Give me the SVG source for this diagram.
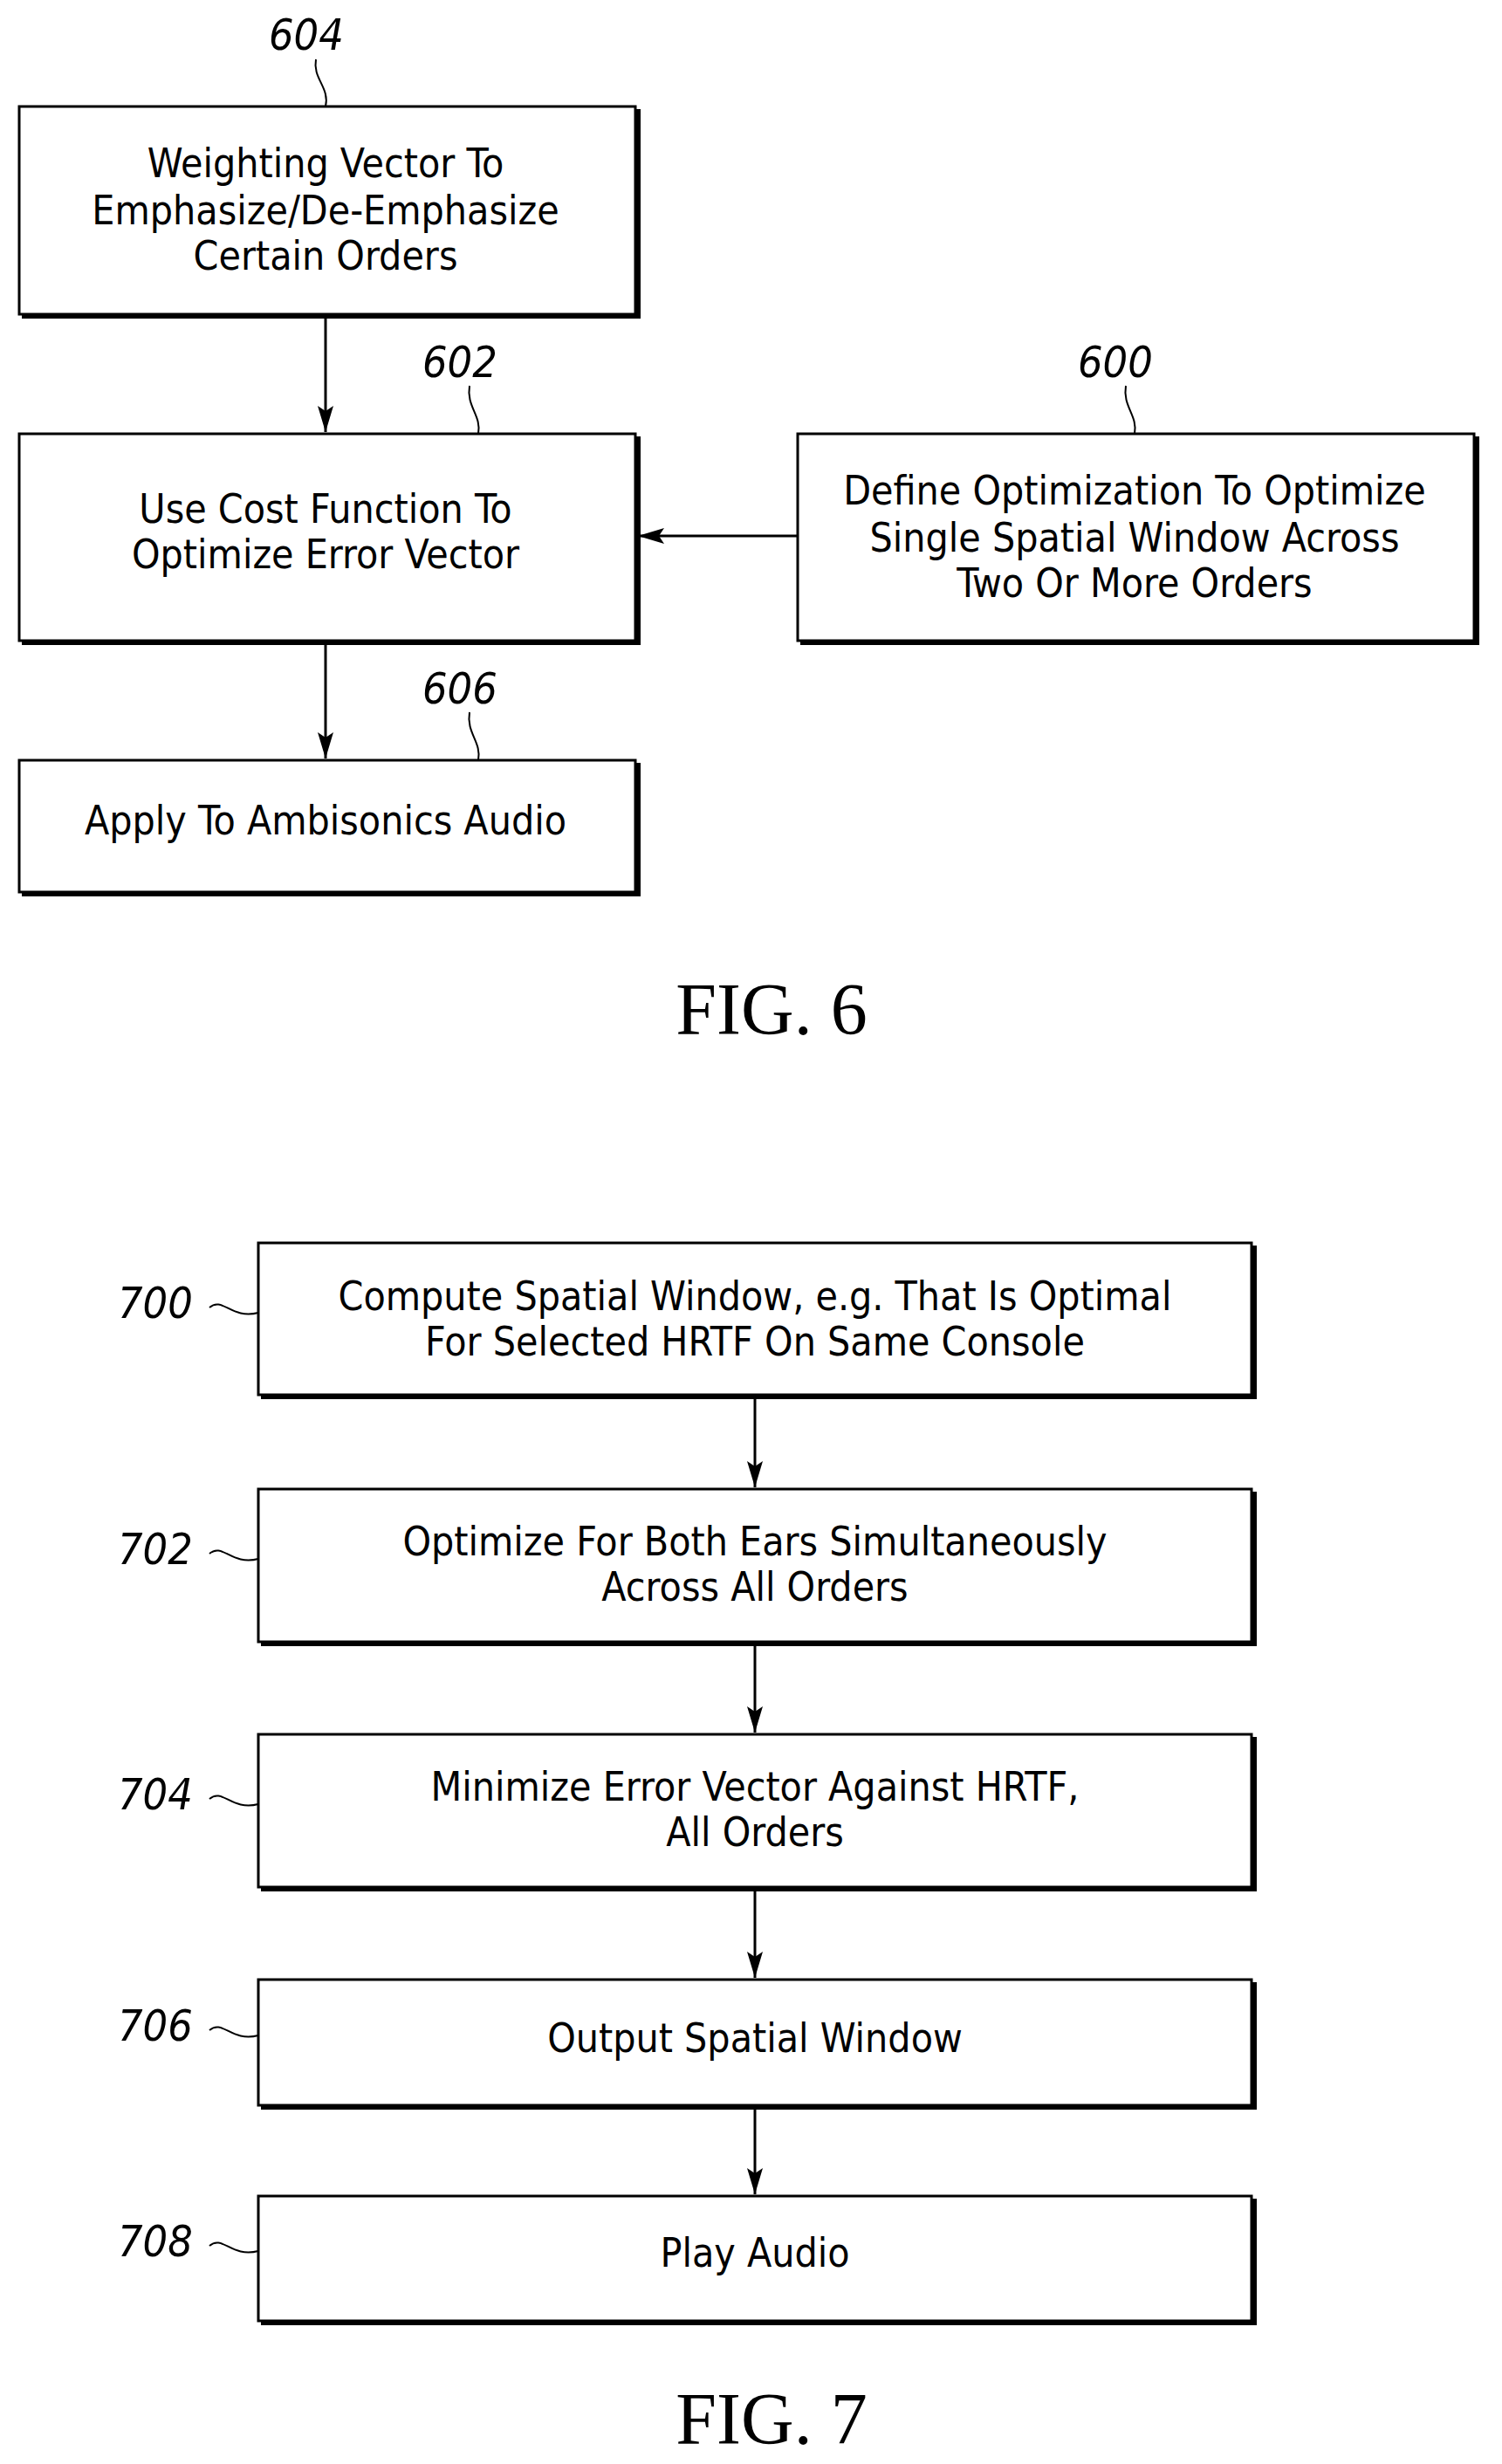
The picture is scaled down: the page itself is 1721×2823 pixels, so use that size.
<svg xmlns="http://www.w3.org/2000/svg" width="1721" height="2823" viewBox="0 0 1721 2823">
<style>
.box{fill:#fff;stroke:#000;stroke-width:3}
.sh{fill:none;stroke:#000;stroke-width:6}
.t{font-family:"DejaVu Sans Condensed","DejaVu Sans",sans-serif;font-size:46px;text-anchor:middle;dominant-baseline:central;transform-box:fill-box;}
.n{font-family:"DejaVu Sans Condensed","DejaVu Sans",sans-serif;font-size:50px;font-style:italic}
.fig{font-family:"Liberation Serif",serif;font-size:84px;text-anchor:middle}
.c{fill:none;stroke:#000;stroke-width:3}
.l{fill:none;stroke:#000;stroke-width:2}
</style>
<defs><marker id="a" markerWidth="12" markerHeight="14" refX="12" refY="7" orient="auto" markerUnits="userSpaceOnUse" viewBox="0 0 12 14"><path d="M0,0 L12,7 L0,14 L4,7 Z" fill="#000"/></marker>
<marker id="b" markerWidth="30" markerHeight="18" refX="30" refY="9" orient="auto" markerUnits="userSpaceOnUse"><path d="M0,0 L30,9 L0,18 L6,9 Z" fill="#000"/></marker></defs>
<g id="connectors">
<line class="c" x1="373" y1="362" x2="373" y2="495" marker-end="url(#b)"/>
<line class="c" x1="373" y1="736" x2="373" y2="869" marker-end="url(#b)"/>
<line class="c" x1="914" y1="614" x2="731" y2="614" marker-end="url(#b)"/>
<line class="c" x1="865" y1="1600" x2="865" y2="1704" marker-end="url(#b)"/>
<line class="c" x1="865" y1="1883" x2="865" y2="1985" marker-end="url(#b)"/>
<line class="c" x1="865" y1="2164" x2="865" y2="2266" marker-end="url(#b)"/>
<line class="c" x1="865" y1="2414" x2="865" y2="2514" marker-end="url(#b)"/>
</g>
<g id="n604"><rect class="box" x="22" y="122" width="706" height="238"/><path class="sh" d="M25,362 H731 V125"/>
<text class="t" x="373" y="187">Weighting Vector To</text><text class="t" x="373" y="241">Emphasize/De-Emphasize</text><text class="t" x="373" y="293">Certain Orders</text>
<text class="n" x="308" y="57">604</text><path class="l" d="M362,68 C358,90 378,100 373,122"/></g>
<g id="n602"><rect class="box" x="22" y="497" width="706" height="237"/><path class="sh" d="M25,736 H731 V500"/>
<text class="t" x="373" y="583">Use Cost Function To</text><text class="t" x="373" y="635">Optimize Error Vector</text>
<text class="n" x="484" y="432">602</text><path class="l" d="M538,442 C534,466 552,476 548,497"/></g>
<g id="n600"><rect class="box" x="914" y="497" width="775" height="237"/><path class="sh" d="M917,736 H1692 V500"/>
<text class="t" x="1300" y="562">Define Optimization To Optimize</text><text class="t" x="1300" y="616">Single Spatial Window Across</text><text class="t" x="1300" y="668">Two Or More Orders</text>
<text class="n" x="1235" y="432">600</text><path class="l" d="M1290,442 C1286,466 1304,476 1300,497"/></g>
<g id="n606"><rect class="box" x="22" y="871" width="706" height="151"/><path class="sh" d="M25,1024 H731 V874"/>
<text class="t" x="373" y="940">Apply To Ambisonics Audio</text>
<text class="n" x="484" y="806">606</text><path class="l" d="M538,816 C534,840 552,850 548,871"/></g>
<text class="fig" x="884" y="1185">FIG. 6</text>
<g id="n700"><rect class="box" x="296" y="1424" width="1138" height="174"/><path class="sh" d="M299,1600 H1437 V1427"/>
<text class="t" x="865" y="1485">Compute Spatial Window, e.g. That Is Optimal</text><text class="t" x="865" y="1537">For Selected HRTF On Same Console</text>
<text class="n" x="135" y="1510">700</text><path class="l" d="M240,1498 C255,1485 265,1512 296,1504"/></g>
<g id="n702"><rect class="box" x="296" y="1706" width="1138" height="175"/><path class="sh" d="M299,1883 H1437 V1709"/>
<text class="t" x="865" y="1766">Optimize For Both Ears Simultaneously</text><text class="t" x="865" y="1818">Across All Orders</text>
<text class="n" x="135" y="1792">702</text><path class="l" d="M240,1780 C255,1767 265,1794 296,1786"/></g>
<g id="n704"><rect class="box" x="296" y="1987" width="1138" height="175"/><path class="sh" d="M299,2164 H1437 V1990"/>
<text class="t" x="865" y="2047">Minimize Error Vector Against HRTF,</text><text class="t" x="865" y="2099">All Orders</text>
<text class="n" x="135" y="2073">704</text><path class="l" d="M240,2061 C255,2048 265,2075 296,2067"/></g>
<g id="n706"><rect class="box" x="296" y="2268" width="1138" height="144"/><path class="sh" d="M299,2414 H1437 V2271"/>
<text class="t" x="865" y="2335">Output Spatial Window</text>
<text class="n" x="135" y="2338">706</text><path class="l" d="M240,2326 C255,2313 265,2340 296,2332"/></g>
<g id="n708"><rect class="box" x="296" y="2516" width="1138" height="143"/><path class="sh" d="M299,2661 H1437 V2519"/>
<text class="t" x="865" y="2581">Play Audio</text>
<text class="n" x="135" y="2585">708</text><path class="l" d="M240,2573 C255,2560 265,2587 296,2579"/></g>
<text class="fig" x="884" y="2800">FIG. 7</text>
</svg>
